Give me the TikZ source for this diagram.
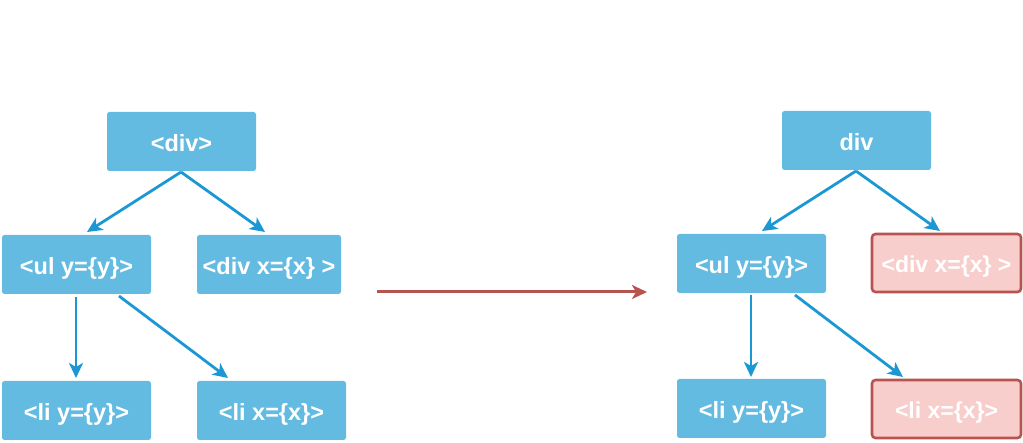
\documentclass[tikz,border=0pt]{standalone}
\usepackage{fontspec}
\setmainfont{Liberation Sans}
\usetikzlibrary{arrows.meta}
\definecolor{boxblue}{HTML}{64BBE2}
\definecolor{arrblue}{HTML}{1B98D4}
\definecolor{redfill}{HTML}{F8CECC}
\definecolor{redline}{HTML}{B85450}
\tikzset{
  bluebox/.style={draw=none, fill=boxblue, rounded corners=2.5pt, minimum height=59pt, inner sep=0pt,
    text height=22pt, text depth=2pt,
    text=white, font=\fontsize{23.5}{28}\selectfont\bfseries},
  redbox/.style={draw=redline, line width=2.6pt, fill=redfill, rounded corners=3.5pt, minimum height=58pt, minimum width=149pt, inner sep=0pt,
    text height=22pt, text depth=2pt,
    text=white, font=\fontsize{23}{27}\selectfont\bfseries},
  blarr/.style={draw=arrblue, line width=2.8pt, -{Stealth[length=15pt,width=14pt,inset=4pt]}},
  rdarr/.style={draw=redline, line width=3pt, -{Stealth[length=15pt,width=14pt,inset=4pt]}}
}
\begin{document}
\begin{tikzpicture}[x=1pt,y=-1pt]
\useasboundingbox (0,0) rectangle (1023,443);
% left tree
\node[bluebox, minimum width=149pt] (ldiv) at (181.5,141.5) {<div>};
\node[bluebox, minimum width=149pt] (lul) at (76.5,264.5) {<ul y=\{y\}>};
\node[bluebox, minimum width=144pt] (ldivx) at (269,264.5) {<div x=\{x\} >};
\node[bluebox, minimum width=149pt] (lliy) at (76.5,410.5) {<li y=\{y\}>};
\node[bluebox, minimum width=149pt] (llix) at (271.5,410.5) {<li x=\{x\}>};
\coordinate (lda) at (181,172);
\coordinate (lul1) at (87,232);
\coordinate (ldx1) at (265,232);
\coordinate (lub) at (76,297);
\coordinate (lly1) at (76,378);
\coordinate (lub2) at (119,296);
\coordinate (llx1) at (228,378);
\draw[blarr] (lda) -- (lul1);
\draw[blarr] (lda) -- (ldx1);
\draw[blarr] (lub) -- (lly1);
\draw[blarr] (lub2) -- (llx1);
% right tree
\node[bluebox, minimum width=149pt] (rdiv) at (856.5,140.5) {div};
\node[bluebox, minimum width=149pt] (rul) at (751.5,263.5) {<ul y=\{y\}>};
\node[redbox] (rdivx) at (946.5,263) {<div x=\{x\} >};
\node[bluebox, minimum width=149pt] (rliy) at (751.5,408.5) {<li y=\{y\}>};
\node[redbox] (rlix) at (946.5,409) {<li x=\{x\}>};
\coordinate (rda) at (856,171);
\coordinate (rul1) at (762,231);
\coordinate (rdx1) at (940,231);
\coordinate (rub) at (751,295);
\coordinate (rly1) at (751,377);
\coordinate (rub2) at (795,295);
\coordinate (rlx1) at (903,377);
\draw[blarr] (rda) -- (rul1);
\draw[blarr] (rda) -- (rdx1);
\draw[blarr] (rub) -- (rly1);
\draw[blarr] (rub2) -- (rlx1);
% transform arrow
\coordinate (ta) at (377,292);
\coordinate (tb) at (647,292);
\draw[rdarr] (ta) -- (tb);
\end{tikzpicture}
\end{document}
